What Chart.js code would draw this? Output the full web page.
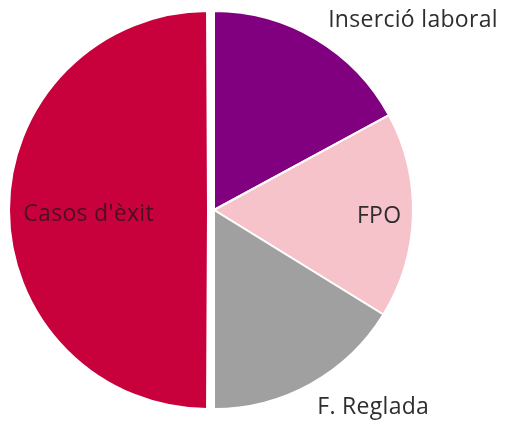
<!DOCTYPE html>
<html>
<head>
<meta charset="utf-8">
<script src="https://cdn.jsdelivr.net/npm/chart.js@4"></script>
<style>
  html, body { margin: 0; padding: 0; background: #fff; }
  #wrap { width: 512px; height: 425px; }
</style>
</head>
<body>
<div id="wrap"><canvas id="myChart" width="512" height="425"></canvas></div>
<script>
const categories = ["Inserció laboral", "FPO", "F. Reglada", "Casos d'èxit"];
const shares = [17.1, 16.7, 16.2, 50];
const sliceColors = ['#800080', '#F6C3CB', '#A0A0A0', '#C8003C'];
const sliceOffsets = [0, 0, 0, 24];

// label placement relative to pie centre, in units of radius
const labelSpots = [[1.0, -0.95], [0.83, 0.03], [0.80, 0.99], [-0.63, 0.02]];

// Chart.js grows an exploded slice by offset/4; shrink it back so all slices share one radius
const keepRadius = {
    id: 'keepRadius',
    afterDatasetUpdate(chart, args) {
        chart.getDatasetMeta(args.index).data.forEach((arc, i) => {
            arc.outerRadius -= sliceOffsets[i] / 4;
        });
    }
};

const sliceLabels = {
    id: 'sliceLabels',
    afterDatasetsDraw(chart) {
        const ctx = chart.ctx;
        const arcs = chart.getDatasetMeta(0).data;
        const r = arcs[0].outerRadius;
        ctx.save();
        ctx.font = '23px "Open Sans"';
        ctx.letterSpacing = '0.3px';
        ctx.textAlign = 'center';
        ctx.textBaseline = 'middle';
        arcs.forEach((arc, i) => {
            ctx.fillStyle = i === 3 ? '#4a1020' : '#2e2e2e';
            ctx.fillText(categories[i], arc.x + labelSpots[i][0] * r, arc.y + labelSpots[i][1] * r);
        });
        ctx.restore();
    }
};

document.addEventListener("DOMContentLoaded", function() {
    const ctx = document.getElementById('myChart').getContext('2d');

    new Chart(ctx, {
        type: 'pie',
        data: {
            labels: categories,
            datasets: [{
                data: shares,
                backgroundColor: sliceColors,
                borderColor: '#ffffff',
                borderWidth: 2,
                offset: sliceOffsets,
                hoverOffset: 0
            }]
        },
        options: {
            responsive: false,
            animation: false,
            radius: 199,
            layout: { padding: { left: 2, right: 86, top: 0, bottom: 5 } },
            plugins: {
                legend: { display: false },
                tooltip: { enabled: false }
            }
        },
        plugins: [keepRadius, sliceLabels]
    });
});
</script>
</body>
</html>
